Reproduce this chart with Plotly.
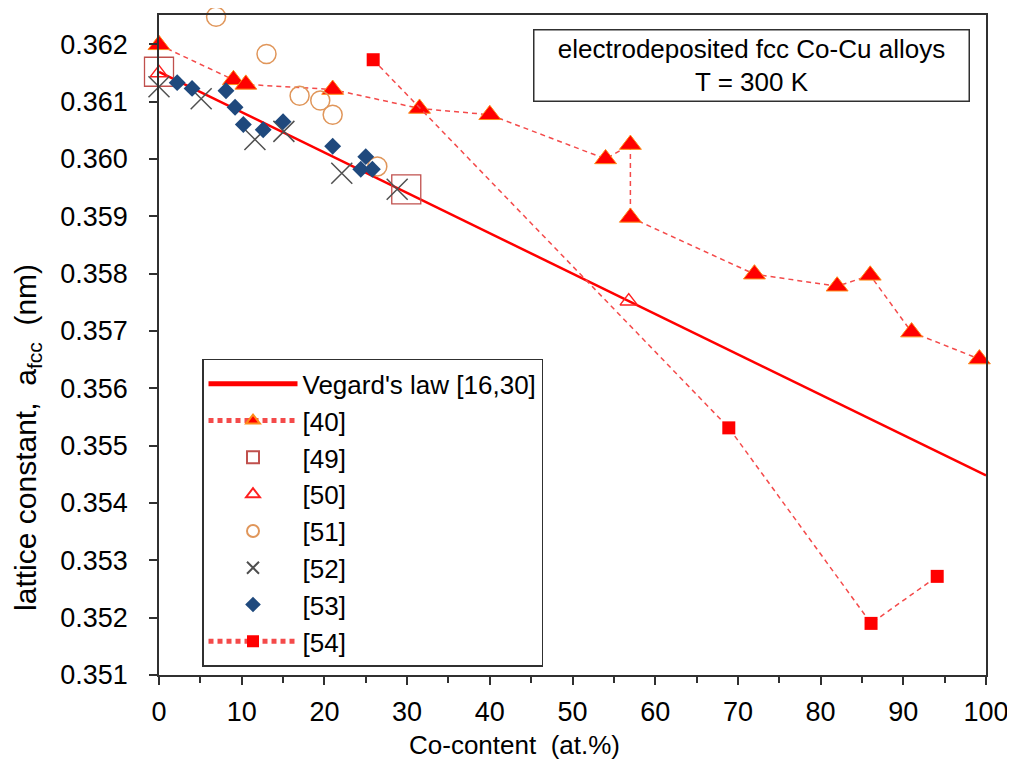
import plotly.graph_objects as go

# ---- data ----
veg_x = [0, 100]
veg_y = [0.36152, 0.35448]

r40_x = [0, 9, 10.5, 21, 31.5, 40, 54, 57, 57, 72, 82, 86, 91, 99.2]
r40_y = [0.36199, 0.36138, 0.36130, 0.36121, 0.36088, 0.36077, 0.36000,
         0.36025, 0.35898, 0.35799, 0.35778, 0.35797, 0.35698, 0.35651]

r49_x = [0, 29.9]
r49_y = [0.36152, 0.35947]

r50_x = [0, 56.8]
r50_y = [0.36150, 0.35752]

r51_x = [6.9, 13.0, 17.0, 19.5, 21.0, 26.4]
r51_y = [0.36248, 0.36183, 0.36110, 0.36102, 0.36077, 0.35987]

r52_x = [0, 5.1, 11.6, 15.1, 22.1, 28.8]
r52_y = [0.36126, 0.36105, 0.36034, 0.36048, 0.35975, 0.35947]

r53_x = [2.2, 4.0, 8.1, 9.2, 10.2, 12.6, 15.0, 21.0, 25.0, 24.4, 25.8]
r53_y = [0.36133, 0.36123, 0.36119, 0.36090, 0.36060, 0.36051, 0.36065,
         0.36022, 0.36004, 0.35982, 0.35982]

r54_x = [25.9, 68.9, 86.1, 94.1]
r54_y = [0.36173, 0.35531, 0.35190, 0.35272]

x_ticks = [0, 10, 20, 30, 40, 50, 60, 70, 80, 90, 100]
y_ticks = [0.351, 0.352, 0.353, 0.354, 0.355, 0.356, 0.357, 0.358, 0.359,
           0.360, 0.361, 0.362]

FONT = "Arial, Liberation Sans, sans-serif"
DASH = "5px,4px"

fig = go.Figure()

fig.add_trace(go.Scatter(x=veg_x, y=veg_y, mode="lines", name="Vegard's law [16,30]",
                         legendgroup="g0", cliponaxis=False,
                         line=dict(color="#FF0000", width=2.5)))
fig.add_trace(go.Scatter(x=r40_x, y=r40_y, mode="lines+markers", name="[40]",
                         legendgroup="g1", cliponaxis=False,
                         line=dict(color="#F44A4A", width=1.5, dash=DASH),
                         marker=dict(symbol="triangle-up", size=19, color="#FF0000",
                                     line=dict(color="#FF8C1A", width=1))))
fig.add_trace(go.Scatter(x=r49_x, y=r49_y, mode="markers", name="[49]",
                         legendgroup="g2", cliponaxis=False,
                         marker=dict(symbol="square-open", size=29, color="#C0504D",
                                     line=dict(color="#C0504D", width=1.3))))
fig.add_trace(go.Scatter(x=r50_x, y=r50_y, mode="markers", name="[50]",
                         legendgroup="g3", cliponaxis=False,
                         marker=dict(symbol="triangle-up-open", size=15, color="#FF2020",
                                     line=dict(color="#FF2020", width=1.5))))
fig.add_trace(go.Scatter(x=r51_x, y=r51_y, mode="markers", name="[51]",
                         legendgroup="g4", cliponaxis=False,
                         marker=dict(symbol="circle-open", size=19, color="#E0965A",
                                     line=dict(color="#E0965A", width=1.5))))
fig.add_trace(go.Scatter(x=r52_x, y=r52_y, mode="markers", name="[52]",
                         legendgroup="g5", cliponaxis=False,
                         marker=dict(symbol="x-thin-open", size=21, color="#505050",
                                     line=dict(color="#505050", width=1.5))))
fig.add_trace(go.Scatter(x=r53_x, y=r53_y, mode="markers", name="[53]",
                         legendgroup="g6", cliponaxis=False,
                         marker=dict(symbol="diamond", size=13, color="#1F497D",
                                     line=dict(width=0))))
fig.add_trace(go.Scatter(x=r54_x, y=r54_y, mode="lines+markers", name="[54]",
                         legendgroup="g7", cliponaxis=False,
                         line=dict(color="#F44A4A", width=1.5, dash=DASH),
                         marker=dict(symbol="square", size=13, color="#FF0000",
                                     line=dict(width=0))))

axis_common = dict(showline=True, linecolor="#303030", linewidth=1.5, mirror=True,
                   ticks="outside", ticklen=8, tickwidth=1.5, tickcolor="#303030",
                   showgrid=False, zeroline=False,
                   tickfont=dict(family=FONT, size=27, color="#000000"))

fig.update_xaxes(range=[0, 100], tickmode="array", tickvals=x_ticks,
                 ticktext=[str(v) for v in x_ticks], ticklabelstandoff=4,
                 minor=dict(ticks="outside", dtick=5, ticklen=6, tickwidth=1.5,
                            tickcolor="#303030"),
                 **axis_common)
fig.update_yaxes(range=[0.351, 0.36251], tickmode="array", tickvals=y_ticks,
                 ticktext=["%.3f" % v for v in y_ticks], ticklabelstandoff=16,
                 **axis_common)

fig.update_layout(
    width=1007, height=764,
    margin=dict(l=151, r=29, t=5, b=97),
    plot_bgcolor="white", paper_bgcolor="white",
    font=dict(family=FONT, color="#000000"),
    legend=dict(x=0.052, y=0.479, xanchor="left", yanchor="top",
                bgcolor="white", bordercolor="#303030", borderwidth=1.5,
                font=dict(family=FONT, size=26, color="#000000"),
                itemsizing="constant", itemwidth=89,
                tracegroupgap=0, traceorder="grouped"),
    annotations=[
        dict(xref="paper", yref="paper", x=0.716, y=0.9237, xanchor="center",
             yanchor="middle", showarrow=False,
             text="electrodeposited fcc Co-Cu alloys<br>T = 300 K",
             font=dict(family=FONT, size=26, color="#000000"),
             bordercolor="#303030", borderwidth=1.5, borderpad=3,
             bgcolor="white", width=428, align="center"),
        dict(xref="paper", yref="paper", x=-0.159, y=0.36, xanchor="center",
             yanchor="middle", showarrow=False, textangle=-90,
             text="lattice constant,\u00a0\u00a0a<sub>fcc</sub>\u00a0\u00a0(nm)",
             font=dict(family=FONT, size=30, color="#000000")),
        dict(xref="paper", yref="paper", x=0.43, y=-0.106, xanchor="center",
             yanchor="middle", showarrow=False,
             text="Co-content\u00a0\u00a0(at.%)",
             font=dict(family=FONT, size=26, color="#000000")),
    ],
)

fig.write_html("out.html")
